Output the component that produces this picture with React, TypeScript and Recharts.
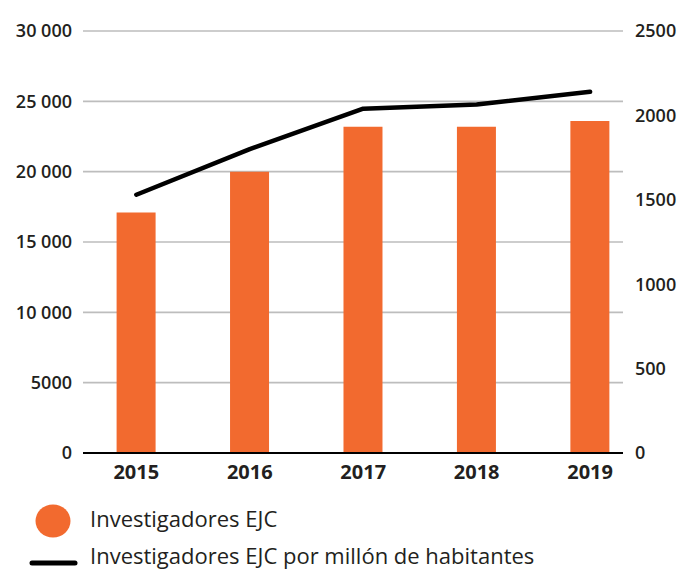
import {
  ComposedChart,
  Bar,
  Line,
  XAxis,
  YAxis,
  CartesianGrid,
} from "recharts";

const years = [2015, 2016, 2017, 2018, 2019];
const investigadores = [17100, 20000, 23200, 23200, 23600];
const porMillon = [1530, 1800, 2040, 2065, 2140];
const leftTicks = [0, 5000, 10000, 15000, 20000, 25000, 30000];
const rightTicks = [0, 500, 1000, 1500, 2000, 2500];

const ORANGE = "#F26A2F";
const INK = "#231f20";
const FONT = "'Open Sans', sans-serif";

const data = years.map((y, i) => ({
  year: y,
  inv: investigadores[i],
  perMillion: porMillon[i],
}));

// 10 000 style grouping, but 5000 stays unspaced
const fmtLeft = (v: number) =>
  v >= 10000 ? String(v).replace(/\B(?=(\d{3})+(?!\d))/g, " ") : String(v);

export default function App() {
  return (
    <div style={{ position: "absolute", left: 0, top: 0, width: 680, height: 570, background: "#fff" }}>
      <ComposedChart
        width={680}
        height={490}
        data={data}
        margin={{ top: 31, right: 0, left: 0, bottom: 0 }}
      >
        <CartesianGrid
          yAxisId="left"
          vertical={false}
          stroke="#bdbdbd"
          strokeWidth={1.6}
        />
        <XAxis
          dataKey="year"
          type="number"
          domain={[2014.53, 2019.29]}
          ticks={years}
          allowDataOverflow
          height={37}
          axisLine={{ stroke: "#000", strokeWidth: 2 }}
          tickLine={false}
          tickSize={0}
          tickMargin={12}
          tick={{ fontSize: 20, fontWeight: 700, fill: INK, fontFamily: FONT }}
        />
        <YAxis
          yAxisId="left"
          orientation="left"
          width={83}
          domain={[0, 30000]}
          ticks={leftTicks}
          tickFormatter={fmtLeft}
          axisLine={false}
          tickLine={false}
          tickSize={0}
          tickMargin={11}
          tick={{ fontSize: 18, fontWeight: 600, fill: INK, fontFamily: FONT }}
        />
        <YAxis
          yAxisId="right"
          orientation="right"
          width={57}
          domain={[0, 2500]}
          ticks={rightTicks}
          axisLine={false}
          tickLine={false}
          tickSize={0}
          tickMargin={12}
          tick={{ fontSize: 18, fontWeight: 600, fill: INK, fontFamily: FONT }}
        />
        <Bar
          yAxisId="left"
          dataKey="inv"
          fill={ORANGE}
          barSize={39}
          isAnimationActive={false}
        />
        <Line
          yAxisId="right"
          type="linear"
          dataKey="perMillion"
          stroke="#000"
          strokeWidth={4.5}
          strokeLinecap="round"
          strokeLinejoin="round"
          dot={false}
          activeDot={false}
          isAnimationActive={false}
        />
      </ComposedChart>

      {/* legend */}
      <svg width={680} height={80} style={{ position: "absolute", left: 0, top: 490 }}>
        <ellipse cx={53} cy={31} rx={17.5} ry={16.5} fill={ORANGE} />
        <text x={90} y={37} fontSize={22} fill={INK} fontFamily={FONT}>
          Investigadores EJC
        </text>
        <line x1={32} y1={73} x2={75} y2={73} stroke="#000" strokeWidth={5} strokeLinecap="round" />
        <text x={90} y={74} fontSize={22} fill={INK} fontFamily={FONT}>
          Investigadores EJC por millón de habitantes
        </text>
      </svg>
    </div>
  );
}
